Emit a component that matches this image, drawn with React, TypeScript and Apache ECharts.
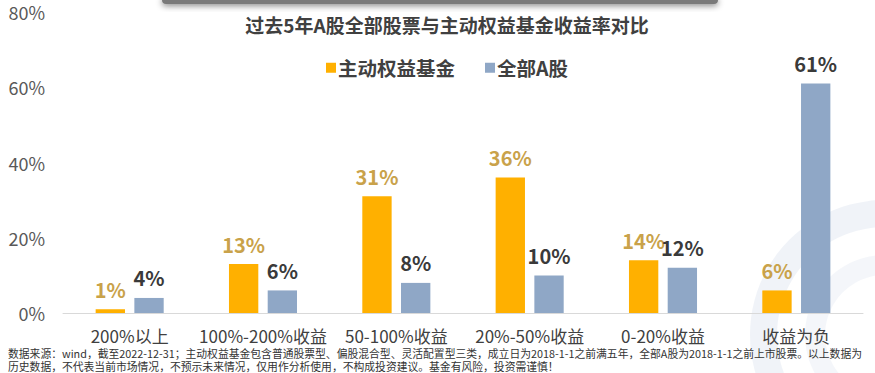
import React, { useEffect, useRef } from "react";
import * as echarts from "echarts";

const categories = ["200%以上", "100%-200%收益", "50-100%收益", "20%-50%收益", "0-20%收益", "收益为负"];
const fundValues = [1, 13, 31, 36, 14, 6];
const stockValues = [4, 6, 8, 10, 12, 61];
const seriesNames = ["主动权益基金", "全部A股"];
const titleText = "过去5年A股全部股票与主动权益基金收益率对比";
const noteLines = [
  "数据来源：wind，截至2022-12-31；主动权益基金包含普通股票型、偏股混合型、灵活配置型三类，成立日为2018-1-1之前满五年，全部A股为2018-1-1之前上市股票。以上数据为",
  "历史数据，不代表当前市场情况，不预示未来情况，仅用作分析使用，不构成投资建议。基金有风险，投资需谨慎！",
];

const FONT = '"Noto Sans CJK SC", "Noto Sans", sans-serif';

export default function App() {
  const ref = useRef<HTMLDivElement>(null);
  useEffect(() => {
    document.body.style.margin = "0";
    if (!ref.current) return;
    const chart = echarts.init(ref.current, null, { renderer: "svg" });
    chart.setOption({
      animation: false,
      backgroundColor: "#ffffff",
      textStyle: { fontFamily: FONT },
      title: {
        text: titleText,
        left: 442,
        textAlign: "center",
        top: 10,
        textStyle: { fontSize: 19, fontWeight: "bold", color: "#404040", fontFamily: FONT },
      },
      legend: {
        data: seriesNames,
        left: 321,
        top: 53,
        itemWidth: 10,
        itemHeight: 10,
        itemGap: 30,
        icon: "rect",
        textStyle: { fontSize: 19.5, fontWeight: "bold", color: "#404040", fontFamily: FONT, padding: [0, 0, 0, -3] },
      },
      grid: { left: 63, right: 12, top: 12, bottom: 60, containLabel: false },
      xAxis: {
        type: "category",
        data: categories,
        axisLine: { show: true, lineStyle: { color: "#D9D9D9", width: 1 } },
        axisTick: { show: false },
        axisLabel: { interval: 0, fontSize: 17, color: "#404040", margin: 13, lineHeight: 18, fontFamily: FONT },
      },
      yAxis: {
        type: "value",
        min: 0,
        max: 80,
        interval: 20,
        axisLine: { show: false },
        axisTick: { show: false },
        splitLine: { show: false },
        axisLabel: { fontSize: 18, color: "#595959", margin: 18, formatter: "{value}%", fontFamily: FONT },
      },
      graphic: [
        {
          type: "ring",
          shape: { cx: 885, cy: 335, r: 135, r0: 108 },
          style: { fill: "rgba(205,216,231,0.3)" },
          z: -1,
          silent: true,
        },
        {
          type: "ring",
          shape: { cx: 885, cy: 335, r: 80, r0: 60 },
          style: { fill: "rgba(205,216,231,0.22)" },
          z: -1,
          silent: true,
        },
        {
          type: "rect",
          shape: { x: 162, y: -4, width: 556, height: 8, r: 4 },
          style: { fill: "#7a7a7a", shadowBlur: 6, shadowColor: "rgba(0,0,0,0.45)", shadowOffsetY: 2 },
          silent: true,
        },
        {
          type: "text",
          left: 8,
          top: 347,
          style: { text: noteLines.join("\n"), fontSize: 10.8, lineHeight: 12.5, fill: "#333333", fontFamily: FONT },
        },
      ],
      series: [
        {
          name: seriesNames[0],
          type: "bar",
          data: fundValues,
          barWidth: "22%",
          barGap: "32%",
          itemStyle: { color: "#FFB000" },
          label: {
            show: true,
            position: "top",
            distance: 10,
            formatter: "{c}%",
            fontSize: 20,
            fontWeight: "bold",
            color: "#C9A24A",
            fontFamily: FONT,
          },
        },
        {
          name: seriesNames[1],
          type: "bar",
          data: stockValues,
          barWidth: "22%",
          itemStyle: { color: "#8FA7C6" },
          label: {
            show: true,
            position: "top",
            distance: 10,
            formatter: "{c}%",
            fontSize: 20,
            fontWeight: "bold",
            color: "#3A3A3A",
            fontFamily: FONT,
          },
        },
      ],
    });
    return () => chart.dispose();
  }, []);
  return <div ref={ref} style={{ width: 875, height: 373 }} />;
}
